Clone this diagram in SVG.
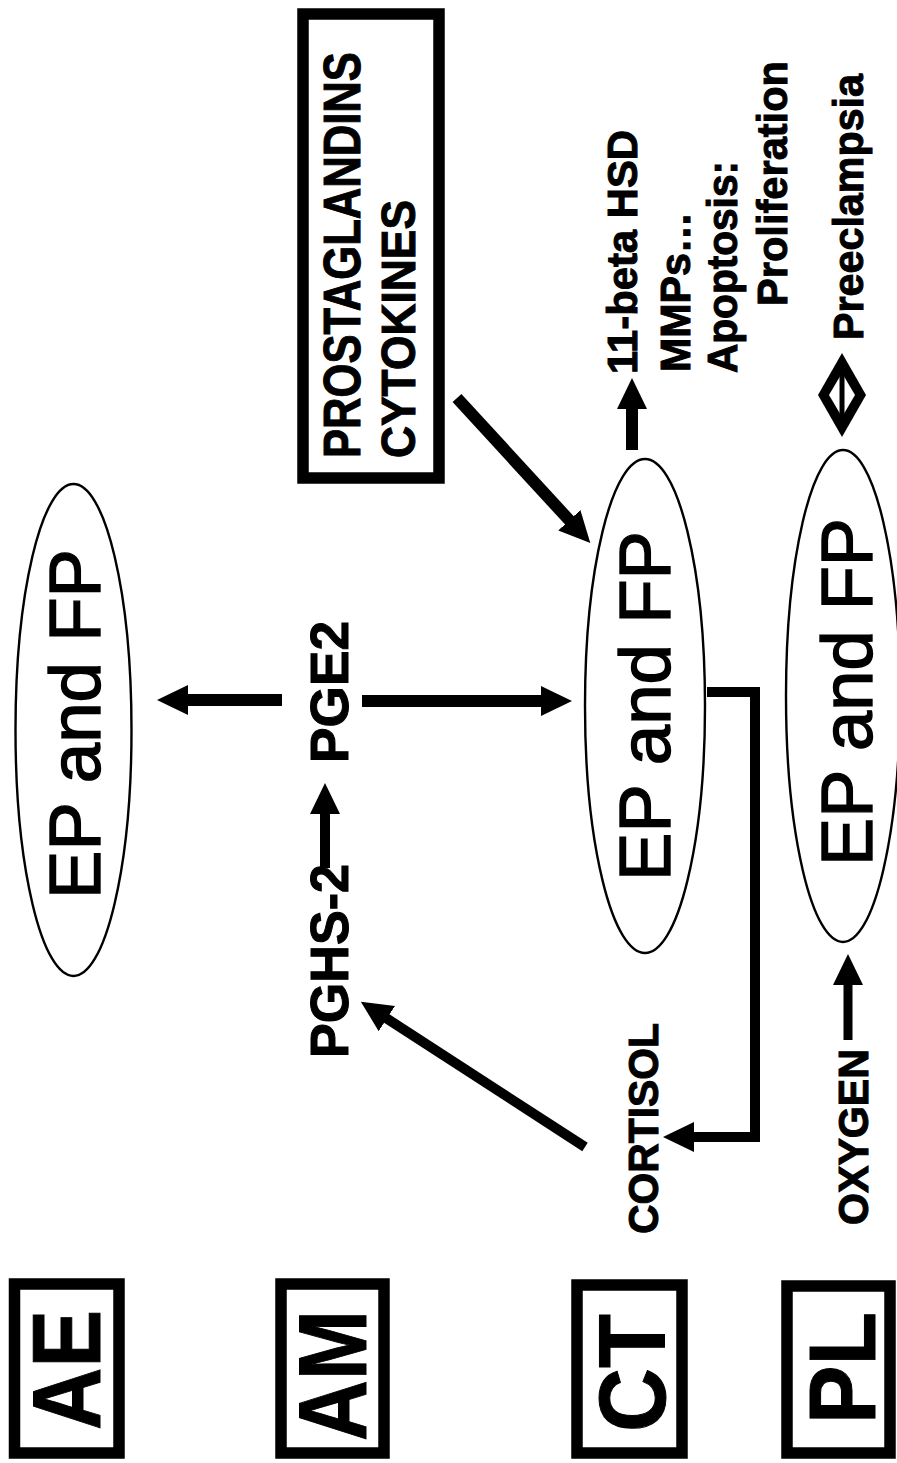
<svg xmlns="http://www.w3.org/2000/svg" width="897" height="1463" viewBox="0 0 897 1463">
  <style>
    .b { font-family: "Liberation Sans", Arial, sans-serif; font-weight: bold; fill: #000; stroke: #000; stroke-width: 1; }
    .r { font-family: "Liberation Sans", Arial, sans-serif; font-weight: normal; fill: #000; stroke: #000; stroke-width: 1.4; }
    .ell { fill: none; stroke: #000; stroke-width: 2.4; }
    .box { fill: #fff; stroke: #000; stroke-width: 11.5; }
    .sh { fill: none; stroke: #000; stroke-linecap: butt; stroke-linejoin: miter; }
  </style>
  <defs>
    <marker id="ah" markerUnits="userSpaceOnUse" markerWidth="32" markerHeight="32" viewBox="0 0 32 32" refX="1" refY="16" orient="auto">
      <path d="M0,1 L31,16 L0,31 z" fill="#000"/>
    </marker>
  </defs>
  <rect width="897" height="1463" fill="#fff"/>

  <!-- tissue labels -->
  <g id="label-ae">
    <rect class="box" x="14.5" y="1284" width="104.5" height="169"/>
    <text class="b" font-size="96" transform="translate(100,1430) rotate(-90)" textLength="120" lengthAdjust="spacingAndGlyphs">AE</text>
  </g>
  <g id="label-am">
    <rect class="box" x="281" y="1284" width="103" height="169"/>
    <text class="b" font-size="96" transform="translate(366,1441) rotate(-90)" textLength="131" lengthAdjust="spacingAndGlyphs">AM</text>
  </g>
  <g id="label-ct">
    <rect class="box" x="577" y="1285" width="105" height="168"/>
    <text class="b" font-size="94" transform="translate(665,1432) rotate(-90)" textLength="118" lengthAdjust="spacingAndGlyphs">CT</text>
  </g>
  <g id="label-pl">
    <rect class="box" x="787" y="1286" width="103" height="167"/>
    <text class="b" font-size="95" transform="translate(875,1424) rotate(-90)" textLength="112" lengthAdjust="spacingAndGlyphs">PL</text>
  </g>

  <!-- receptor ellipses -->
  <g id="ep-fp-ae">
    <ellipse class="ell" cx="73.5" cy="730" rx="58" ry="246"/>
    <text class="r" font-size="73" transform="translate(100,899) rotate(-90)" textLength="350" lengthAdjust="spacingAndGlyphs">EP and FP</text>
  </g>
  <g id="ep-fp-ct">
    <ellipse class="ell" cx="645" cy="706" rx="60" ry="247"/>
    <text class="r" font-size="73" transform="translate(670,881) rotate(-90)" textLength="350" lengthAdjust="spacingAndGlyphs">EP and FP</text>
  </g>
  <g id="ep-fp-pl">
    <ellipse class="ell" cx="843" cy="696" rx="57" ry="246"/>
    <text class="r" font-size="73" transform="translate(872,866) rotate(-90)" textLength="348" lengthAdjust="spacingAndGlyphs">EP and FP</text>
  </g>

  <!-- stimuli box -->
  <g id="stimuli">
    <rect class="box" x="303" y="14" width="136" height="464"/>
    <!-- long line is condensed along its run so it fits inside the frame -->
    <text class="b" font-size="52" transform="translate(360,458) rotate(-90) scale(0.838,1)">PROSTAGLANDINS</text>
    <text class="b" font-size="49" transform="translate(415,458) rotate(-90)" textLength="258" lengthAdjust="spacingAndGlyphs">CYTOKINES</text>
  </g>

  <!-- mediators -->
  <g id="pghs2">
    <text class="b" font-size="53" transform="translate(348,1058) rotate(-90)" textLength="194" lengthAdjust="spacingAndGlyphs">PGHS-2</text>
  </g>
  <g id="pge2">
    <text class="b" font-size="53" transform="translate(348,763) rotate(-90)" textLength="142" lengthAdjust="spacingAndGlyphs">PGE2</text>
  </g>
  <g id="cortisol">
    <text class="b" font-size="42" transform="translate(658,1234) rotate(-90)" textLength="211" lengthAdjust="spacingAndGlyphs">CORTISOL</text>
  </g>
  <g id="oxygen">
    <text class="b" font-size="42" transform="translate(868,1225) rotate(-90)" textLength="176" lengthAdjust="spacingAndGlyphs">OXYGEN</text>
  </g>

  <!-- outcomes -->
  <g id="outcomes">
    <text class="b" font-size="42" transform="translate(637,374) rotate(-90)" textLength="244" lengthAdjust="spacingAndGlyphs">11-beta HSD</text>
    <text class="b" font-size="42" transform="translate(690,372) rotate(-90)" textLength="160" lengthAdjust="spacingAndGlyphs">MMPs…</text>
    <text class="b" font-size="42" transform="translate(737,373) rotate(-90)" textLength="212" lengthAdjust="spacingAndGlyphs">Apoptosis:</text>
    <text class="b" font-size="42" transform="translate(787,306) rotate(-90)" textLength="245" lengthAdjust="spacingAndGlyphs">Proliferation</text>
  </g>
  <g id="preeclampsia">
    <text class="b" font-size="42" transform="translate(863,340) rotate(-90)" textLength="266" lengthAdjust="spacingAndGlyphs">Preeclampsia</text>
  </g>

  <!-- connectors -->
  <g id="connectors">
    <!-- PGE2 to AE receptors -->
    <line class="sh" stroke-width="12" x1="282" y1="700" x2="187" y2="700" marker-end="url(#ah)"/>
    <!-- PGE2 to CT receptors -->
    <line class="sh" stroke-width="12" x1="362" y1="701" x2="542" y2="701" marker-end="url(#ah)"/>
    <!-- PGHS-2 to PGE2 -->
    <line class="sh" stroke-width="10" x1="325" y1="868" x2="325" y2="813" marker-end="url(#ah)"/>
    <!-- cortisol to PGHS-2 -->
    <line class="sh" stroke-width="10" x1="585" y1="1147" x2="386" y2="1018" marker-end="url(#ah)"/>
    <!-- stimuli to CT receptors -->
    <line class="sh" stroke-width="12" x1="457" y1="398" x2="570" y2="521" marker-end="url(#ah)"/>
    <!-- CT receptors to 11-beta HSD -->
    <line class="sh" stroke-width="12" x1="632" y1="450" x2="632" y2="408" marker-end="url(#ah)"/>
    <!-- CT receptors feedback to cortisol -->
    <polyline class="sh" stroke-width="10" points="707,692 755,692 755,1137 693,1137" marker-end="url(#ah)"/>
    <!-- oxygen to PL receptors -->
    <line class="sh" stroke-width="9" x1="848" y1="1040" x2="848" y2="984" marker-end="url(#ah)"/>
    <!-- PL receptors to preeclampsia (two-way) -->
    <polygon points="842,353 866,395 842,437 818,395" fill="#000"/>
    <polygon points="842,373 855,395 842,417 829,395" fill="#fff"/>
    <line x1="842" y1="370" x2="842" y2="420" stroke="#000" stroke-width="5"/>
  </g>
</svg>
